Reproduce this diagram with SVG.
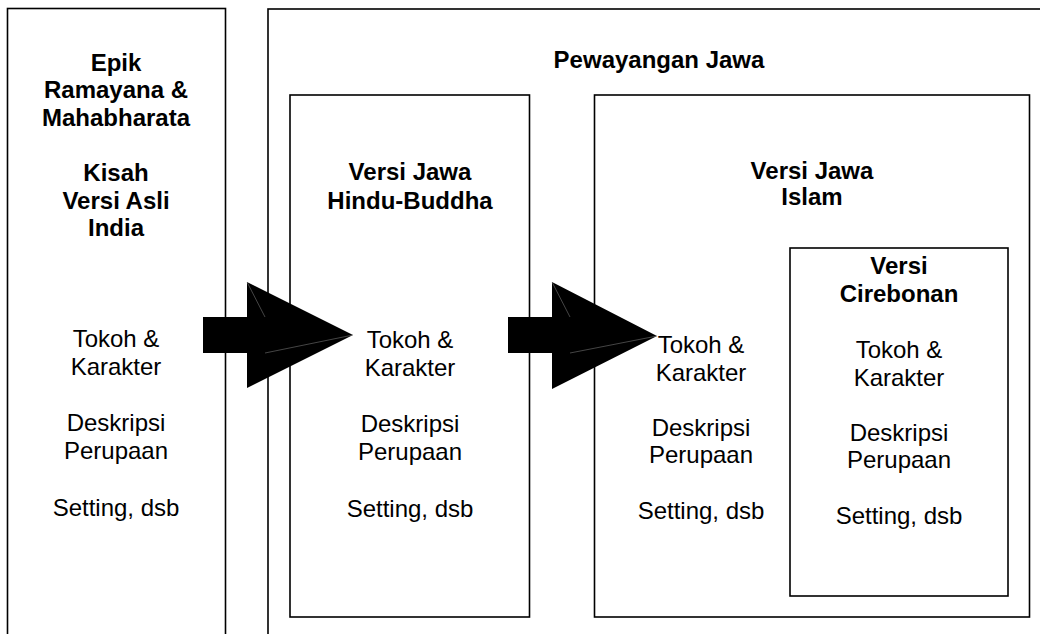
<svg xmlns="http://www.w3.org/2000/svg" width="1040" height="634" viewBox="0 0 1040 634">
<style>
.box{fill:none;stroke:#000;stroke-width:1.6}
.t{font-family:"Liberation Sans",Arial,sans-serif;font-size:24px;fill:#000;text-anchor:middle}
.b{font-weight:bold}
.arrow{fill:#000;stroke:none}
.seam{fill:none;stroke:#8a8a8a;stroke-width:0.5}
</style>
<rect width="1040" height="634" fill="#fff"/>
<g id="node-india">
<rect class="box" x="7.5" y="8.5" width="218" height="640"/>
<text class="t b"><tspan x="116" y="70.5">Epik</tspan><tspan x="116" y="98.1">Ramayana &amp;</tspan><tspan x="116" y="125.7">Mahabharata</tspan><tspan x="116" y="180.9">Kisah</tspan><tspan x="116" y="208.5">Versi Asli</tspan><tspan x="116" y="236.1">India</tspan></text>
<text class="t"><tspan x="116" y="346.5">Tokoh &amp;</tspan><tspan x="116" y="374.5">Karakter</tspan><tspan x="116" y="431">Deskripsi</tspan><tspan x="116" y="459">Perupaan</tspan><tspan x="116" y="515.5">Setting, dsb</tspan></text>
</g>
<g id="node-pewayangan">
<rect class="box" x="268" y="9" width="790" height="640"/>
<text class="t b" x="659" y="68">Pewayangan Jawa</text>
</g>
<g id="node-hindu">
<rect class="box" x="290" y="95" width="239.5" height="522"/>
<text class="t b"><tspan x="410" y="180">Versi Jawa</tspan><tspan x="410" y="208.5">Hindu-Buddha</tspan></text>
<text class="t"><tspan x="410" y="348">Tokoh &amp;</tspan><tspan x="410" y="376">Karakter</tspan><tspan x="410" y="432">Deskripsi</tspan><tspan x="410" y="460">Perupaan</tspan><tspan x="410" y="516.5">Setting, dsb</tspan></text>
</g>
<g id="node-islam">
<rect class="box" x="594.5" y="95" width="435" height="522"/>
<text class="t b"><tspan x="812" y="179">Versi Jawa</tspan><tspan x="812" y="205">Islam</tspan></text>
<text class="t"><tspan x="701" y="353">Tokoh &amp;</tspan><tspan x="701" y="380.6">Karakter</tspan><tspan x="701" y="435.8">Deskripsi</tspan><tspan x="701" y="463.4">Perupaan</tspan><tspan x="701" y="518.6">Setting, dsb</tspan></text>
</g>
<g id="node-cirebonan">
<rect class="box" x="790" y="248" width="218" height="348"/>
<text class="t b"><tspan x="899" y="274">Versi</tspan><tspan x="899" y="302">Cirebonan</tspan></text>
<text class="t"><tspan x="899" y="358">Tokoh &amp;</tspan><tspan x="899" y="385.6">Karakter</tspan><tspan x="899" y="440.8">Deskripsi</tspan><tspan x="899" y="468.4">Perupaan</tspan><tspan x="899" y="523.6">Setting, dsb</tspan></text>
</g>
<g id="connectors">
<polygon class="arrow" points="203,317 247,317 247,282 353,335 247,388 247,353 203,353"/>
<path class="seam" d="M247,282 L265,317 M265,353 L353,335"/>
<polygon class="arrow" points="508,317 552,317 552,282 657,336 552,389 552,353 508,353"/>
<path class="seam" d="M552,282 L570,317 M570,353 L657,336"/>
</g>
</svg>
